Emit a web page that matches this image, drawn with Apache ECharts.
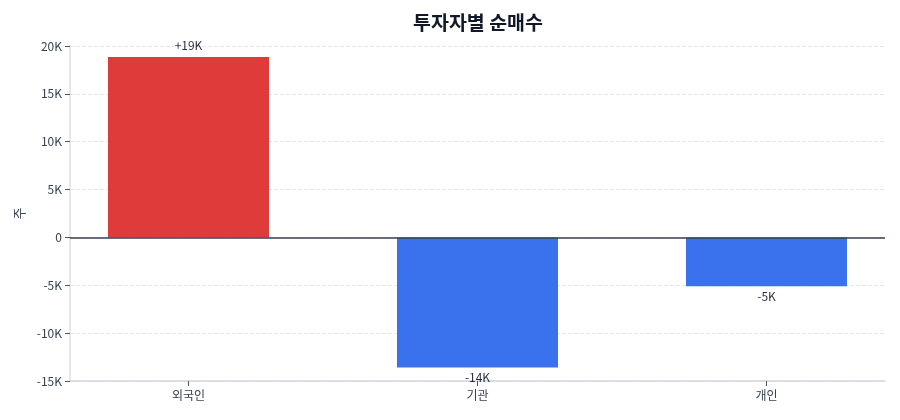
<!DOCTYPE html>
<html>
<head>
<meta charset="utf-8">
<script src="https://cdn.jsdelivr.net/npm/echarts@6/dist/echarts.min.js"></script>
<style>
  html, body { margin: 0; padding: 0; background: #fff; }
  #main { width: 900px; height: 420px; }
</style>
</head>
<body>
<div id="main"></div>
<script>
var categories = ['외국인', '기관', '개인'];
var netBuy = [18850, -13580, -5100];
var valueLabels = ['+19K', '-14K', '-5K'];
var categoryIndex = [0, 1, 2];

var FONT = '"Noto Sans CJK KR", "Noto Sans", sans-serif';

var myChart = echarts.init(document.getElementById('main'));
var option = {
  textStyle: { fontFamily: FONT },
  title: {
    text: '투자자별 순매수',
    left: 473,
    textAlign: 'center',
    top: 8,
    textStyle: { fontSize: 19.5, fontWeight: 'bold', color: '#111827', fontFamily: FONT }
  },
  grid: { left: 70, right: 15, top: 46, bottom: 39 },
  xAxis: {
    type: 'value',
    min: -0.41,
    max: 2.41,
    splitLine: { show: false },
    axisLine: { onZero: false, lineStyle: { color: '#d1d5db', width: 1.5 } },
    axisTick: { show: true, customValues: categoryIndex, lineStyle: { color: '#4b5563' } },
    axisLabel: {
      color: '#374151',
      fontSize: 12,
      margin: 8,
      customValues: categoryIndex,
      formatter: function (v) { return categories[Math.round(v)]; }
    }
  },
  yAxis: {
    type: 'value',
    min: -15000,
    max: 20000,
    interval: 5000,
    name: '주',
    nameLocation: 'middle',
    nameGap: 44,
    nameTextStyle: { color: '#374151', fontSize: 13 },
    axisLine: { show: true, onZero: false, lineStyle: { color: '#e5e7eb', width: 2 } },
    axisTick: { show: true, lineStyle: { color: '#4b5563' } },
    axisLabel: {
      color: '#374151',
      fontSize: 12,
      formatter: function (v) { return v === 0 ? '0' : (v / 1000) + 'K'; }
    },
    splitLine: { lineStyle: { type: 'dashed', color: '#e5e7eb' } }
  },
  series: [{
    type: 'bar',
    barWidth: 161,
    data: netBuy.map(function (v, i) {
      return {
        value: [categoryIndex[i], v],
        itemStyle: { color: v >= 0 ? '#dc2626' : '#2563eb', opacity: 0.9 },
        label: { position: v >= 0 ? 'top' : 'bottom', distance: v >= 0 ? 6 : 4 }
      };
    }),
    label: {
      show: true,
      color: '#111827',
      fontSize: 12,
      formatter: function (p) { return valueLabels[p.dataIndex]; }
    },
    markLine: {
      silent: true,
      symbol: 'none',
      label: { show: false },
      lineStyle: { color: '#374151', type: 'solid', width: 1.5 },
      data: [{ yAxis: 0 }]
    }
  }]
};
myChart.setOption(option);
</script>
</body>
</html>
